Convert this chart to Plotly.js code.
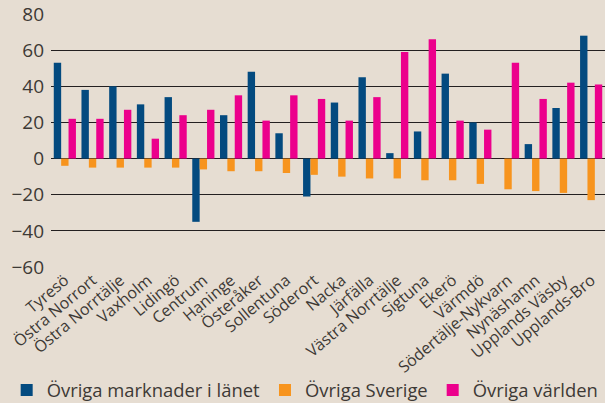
<!DOCTYPE html>
<html><head><meta charset="utf-8">
<script src="https://cdn.plot.ly/plotly-3.0.1.min.js"></script>
<style>html,body{margin:0;padding:0;background:#e6ddd2;}</style>
</head><body>
<div id="chart" style="width:605px;height:403px;"></div>
<script>
const categories = ["Tyresö","Östra Norrort","Östra Norrtälje","Vaxholm","Lidingö","Centrum","Haninge","Österåker","Sollentuna","Söderort","Nacka","Järfälla","Västra Norrtälje","Sigtuna","Ekerö","Värmdö","Södertälje-Nykvarn","Nynäshamn","Upplands Väsby","Upplands-Bro"];
const lanet   = [53, 38, 40, 30, 34, -35, 24, 48, 14, -21, 31, 45, 3, 15, 47, 20, 0, 8, 28, 68];
const sverige = [-4, -5, -5, -5, -5, -6, -7, -7, -8, -9, -10, -11, -11, -12, -12, -14, -17, -18, -19, -23];
const varlden = [22, 22, 27, 11, 24, 27, 35, 21, 35, 33, 21, 34, 59, 66, 21, 16, 53, 33, 42, 41];
const yTicks = [-60, -40, -20, 0, 20, 40, 60, 80];

const font = "'Open Sans', 'Noto Sans', sans-serif";
const traces = [
  {type:'bar', name:'Övriga marknader i länet', x:categories, y:lanet, marker:{color:'#034a7f'}},
  {type:'bar', name:'Övriga Sverige', x:categories, y:sverige, marker:{color:'#f7941e'}},
  {type:'bar', name:'Övriga världen', x:categories, y:varlden, marker:{color:'#ec008c'}}
];
const layout = {
  width:605, height:403,
  paper_bgcolor:'#e6ddd2', plot_bgcolor:'#e6ddd2',
  margin:{l:51, r:0, t:14, b:136, autoexpand:false},
  barmode:'group', bargap:0.2, bargroupgap:0,
  font:{family:font, color:'#3d3935'},
  showlegend:true,
  legend:{orientation:'h', x:-0.08, xanchor:'left', y:-0.486, yanchor:'middle',
          font:{size:18.4, color:'#3d3935', family:font}, bgcolor:'rgba(0,0,0,0)',
          itemwidth:30, traceorder:'normal'},
  xaxis:{type:'category', tickangle:-40, tickfont:{size:16, color:'#3d3935'},
         showgrid:false, zeroline:false, showline:false, ticks:'', automargin:false},
  yaxis:{range:[-60,80], tickvals:yTicks, showgrid:true, gridcolor:'#231f20', gridwidth:1.2,
         zeroline:true, zerolinecolor:'#231f20', zerolinewidth:1.2, showline:false,
         tickfont:{size:19, color:'#3d3935'}, ticks:'', ticklen:0, ticklabelstandoff:6, automargin:false}
};
Plotly.newPlot('chart', traces, layout, {displayModeBar:false, staticPlot:true});
</script>
</body></html>
